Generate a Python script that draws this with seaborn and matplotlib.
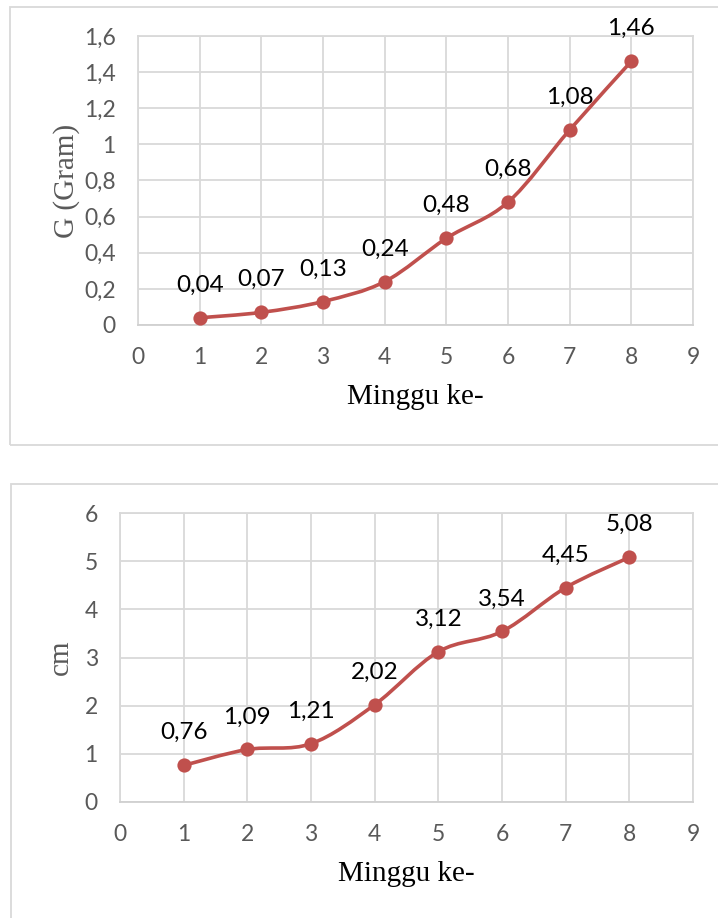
import numpy as np
import pandas as pd
import seaborn as sns
import matplotlib.pyplot as plt
from matplotlib.path import Path
from matplotlib.patches import PathPatch, Rectangle

# data
minggu = [1, 2, 3, 4, 5, 6, 7, 8]
berat = [0.04, 0.07, 0.13, 0.24, 0.48, 0.68, 1.08, 1.46]
panjang = [0.76, 1.09, 1.21, 2.02, 3.12, 3.54, 4.45, 5.08]

x_ticks = list(range(0, 10))
y_ticks_top = [0, 0.2, 0.4, 0.6, 0.8, 1.0, 1.2, 1.4, 1.6]
y_ticks_bot = [0, 1, 2, 3, 4, 5, 6]

RED = "#C0504D"
GRID = "#D9D9D9"
TXT = "#595959"

sns.set_theme(style="white")
plt.rcParams['font.family'] = ['Lato', 'DejaVu Sans']


def fmt(v):
    return "{:g}".format(v).replace(".", ",")


def smooth_line(ax, x, y):
    # Excel style smoothed line (Catmull-Rom as cubic Bezier)
    pts = np.column_stack([x, y]).astype(float)
    n = len(pts)
    verts = [pts[0]]
    codes = [Path.MOVETO]
    for i in range(n - 1):
        p0 = pts[max(i - 1, 0)]
        p1 = pts[i]
        p2 = pts[i + 1]
        p3 = pts[min(i + 2, n - 1)]
        c1 = p1 + (p2 - p0) / 6
        c2 = p2 - (p3 - p1) / 6
        verts += [c1, c2, p2]
        codes += [Path.CURVE4] * 3
    ax.add_patch(PathPatch(Path(verts, codes), facecolor="none", edgecolor=RED,
                           lw=2.6, zorder=3, capstyle="round", joinstyle="round"))


def make_chart(ax, y, yticks, ylabel):
    df = pd.DataFrame({"minggu": minggu, "nilai": y})
    smooth_line(ax, df.minggu, df.nilai)
    sns.scatterplot(data=df, x="minggu", y="nilai", ax=ax, color=RED, s=105,
                    edgecolor=RED, linewidth=0, zorder=4, clip_on=False)
    ax.set_xlim(0, 9)
    ax.set_ylim(yticks[0], yticks[-1])
    ax.set_xticks(x_ticks)
    ax.set_xticklabels([fmt(v) for v in x_ticks])
    ax.set_yticks(yticks)
    ax.set_yticklabels([fmt(v) for v in yticks])
    ax.grid(True, color=GRID, lw=1.3)
    ax.set_axisbelow(True)
    for s in ax.spines.values():
        s.set_color(GRID)
        s.set_linewidth(1.3)
    ax.spines["bottom"].set_color("#D0D0D0")
    ax.tick_params(axis="both", length=0, labelsize=16.5, colors=TXT)
    ax.tick_params(axis="x", pad=16)
    ax.tick_params(axis="y", pad=16)
    ax.set_xlabel("Minggu ke-", family="Liberation Serif", fontsize=21, color="black")
    ax.set_ylabel(ylabel, family="Liberation Serif", fontsize=21, color=TXT)
    for xi, yi in zip(minggu, y):
        ax.annotate(fmt(yi), (xi, yi), xytext=(0, 23.5), textcoords="offset points",
                    ha="center", va="center", fontsize=17.5, color="black", zorder=5)


fig = plt.figure(figsize=(7.18, 9.18), dpi=100)
W, H = 718, 918

# chart frames
fig.patches.append(Rectangle((10 / W, 1 - 445 / H), 720 / W, 438 / H, transform=fig.transFigure,
                             fill=False, edgecolor=GRID, lw=1.3))
fig.patches.append(Rectangle((11 / W, -0.05), 720 / W, 1 - 484 / H + 0.05, transform=fig.transFigure,
                             fill=False, edgecolor=GRID, lw=1.3))

ax1 = fig.add_axes([138 / W, 1 - 325 / H, 555 / W, 289 / H])
ax2 = fig.add_axes([120 / W, 1 - 802 / H, 573 / W, 289 / H])

make_chart(ax1, berat, y_ticks_top, "G (Gram)")
make_chart(ax2, panjang, y_ticks_bot, "cm")

ax1.xaxis.set_label_coords(0.5, -0.205)
ax1.yaxis.set_label_coords(-0.105, 0.5)
ax2.xaxis.set_label_coords(0.5, -0.205)
ax2.yaxis.set_label_coords(-0.08, 0.5)

fig.savefig("out.png", dpi=100)
